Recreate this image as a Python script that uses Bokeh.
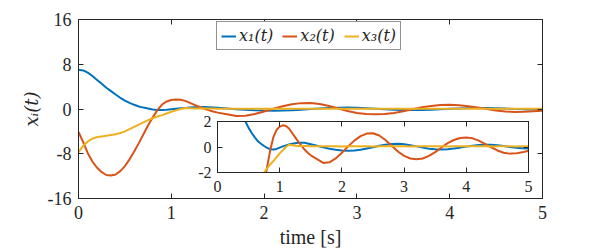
from bokeh.plotting import figure
from bokeh.models import LinearAxis, FixedTicker, Legend, LegendItem
from bokeh.layouts import column
from bokeh.embed import file_html
from bokeh.resources import INLINE

# ---- data ----
t = [0.00, 0.05, 0.10, 0.15, 0.20, 0.25, 0.30, 0.35, 0.40, 0.45, 0.50, 0.55, 0.60, 0.65, 0.70,
     0.75, 0.80, 0.85, 0.90, 0.95, 1.00, 1.05, 1.10, 1.15, 1.20, 1.25, 1.30, 1.35, 1.40, 1.45, 1.50,
     1.6, 1.7, 1.8, 1.9, 2.0, 2.1, 2.2, 2.3, 2.4, 2.5, 2.6, 2.7, 2.8, 2.9, 3.0, 3.1, 3.2, 3.3, 3.4,
     3.5, 3.6, 3.7, 3.8, 3.9, 4.0, 4.1, 4.2, 4.3, 4.4, 4.5, 4.6, 4.7, 4.8, 4.9, 5.0]
x1 = [7.0, 6.9, 6.5, 5.9, 5.2, 4.5, 3.8, 3.2, 2.6, 2.0, 1.5, 1.1, 0.75, 0.45, 0.25,
      0.08, -0.08, -0.17, -0.2, -0.15, -0.05, 0.05, 0.13, 0.2, 0.26, 0.3, 0.33, 0.34, 0.33, 0.28, 0.22,
      0.1, -0.03, -0.14, -0.22, -0.28, -0.3, -0.28, -0.22, -0.12, -0.02, 0.1, 0.18, 0.24, 0.26, 0.22,
      0.14, 0.05, -0.05, -0.13, -0.18, -0.2, -0.18, -0.12, -0.05, 0.03, 0.1, 0.15, 0.18, 0.17, 0.13,
      0.07, 0.0, -0.06, -0.1, -0.11]
x2 = [-4.1, -5.9, -7.9, -9.4, -10.5, -11.3, -11.8, -11.9, -11.7, -11.1, -10.2, -9.0, -7.6, -6.1, -4.5,
      -2.9, -1.5, -0.2, 0.8, 1.35, 1.6, 1.7, 1.65, 1.45, 1.1, 0.75, 0.4, 0.1, -0.2, -0.45, -0.65,
      -0.95, -1.25, -1.2, -0.9, -0.45, 0.05, 0.5, 0.85, 1.05, 1.08, 0.9, 0.55, 0.1, -0.35, -0.7,
      -0.9, -0.96, -0.9, -0.7, -0.4, -0.05, 0.3, 0.55, 0.7, 0.74, 0.68, 0.5, 0.25, -0.02, -0.27,
      -0.45, -0.52, -0.5, -0.42, -0.3]
x3 = [-7.7, -6.6, -5.8, -5.3, -5.0, -4.9, -4.8, -4.65, -4.5, -4.3, -4.0, -3.6, -3.2, -2.8, -2.4,
      -2.0, -1.65, -1.35, -1.1, -0.8, -0.5, -0.25, 0.0, 0.18, 0.15, 0.1, 0.08, 0.07, 0.08, 0.07, 0.06,
      0.05, 0.05, 0.06, 0.05, 0.04, 0.05, 0.06, 0.05, 0.05, 0.04, 0.05, 0.05, 0.06, 0.05, 0.05,
      0.04, 0.05, 0.05, 0.05, 0.06, 0.05, 0.04, 0.05, 0.05, 0.05, 0.05, 0.06, 0.05, 0.04, 0.05,
      0.05, 0.05, 0.04, 0.05, 0.05]
labels = ["x\u2081(t)", "x\u2082(t)", "x\u2083(t)"]
colors = ["#0072BD", "#D95319", "#EDB120"]

x_ticks = [0, 1, 2, 3, 4, 5]
y_ticks = [-16, -8, 0, 8, 16]
inset_x_ticks = [0, 1, 2, 3, 4, 5]
inset_y_ticks = [-2, 0, 2]

FONT = "Liberation Serif"
MATHFONT = "DejaVu Serif"
INK = "#262626"


def style_axis(ax, ticks, show_labels=True, size="18px", standoff=7):
    ax.ticker = FixedTicker(ticks=ticks)
    ax.major_tick_in = 5
    ax.major_tick_out = 0
    ax.minor_tick_line_color = None
    ax.axis_line_color = INK
    ax.major_tick_line_color = INK
    ax.major_label_text_font = FONT
    ax.major_label_standoff = standoff
    ax.major_label_overrides = {v: str(v) for v in ticks}
    if show_labels:
        ax.major_label_text_font_size = size
        ax.major_label_text_color = INK
    else:
        ax.major_label_text_font_size = "1px"
        ax.major_label_text_color = None
        ax.major_label_standoff = 0


# ---- main figure ----
p = figure(width=590, height=250, x_range=(0, 5), y_range=(-16, 16),
           output_backend="svg", toolbar_location=None,
           min_border_left=78, min_border_right=48, min_border_top=19, min_border_bottom=52,
           background_fill_color="white", border_fill_color="white")
p.grid.visible = False
p.outline_line_color = INK

style_axis(p.xaxis[0], x_ticks, standoff=7)
style_axis(p.yaxis[0], y_ticks, standoff=7)
p.xaxis.axis_label = "time [s]"
p.yaxis.axis_label = "x\u1d62(t)"
p.xaxis.axis_label_text_font = FONT
p.xaxis.axis_label_text_font_size = "20px"
p.xaxis.axis_label_text_font_style = "normal"
p.yaxis.axis_label_text_font = MATHFONT
p.yaxis.axis_label_text_font_size = "18px"
p.yaxis.axis_label_text_font_style = "italic"
for ax in (p.xaxis[0], p.yaxis[0]):
    ax.axis_label_text_color = INK
p.xaxis.axis_label_standoff = 4
p.yaxis.axis_label_standoff = 3

top = LinearAxis()
style_axis(top, x_ticks, show_labels=False)
p.add_layout(top, "above")
right = LinearAxis()
style_axis(right, y_ticks, show_labels=False)
p.add_layout(right, "right")

renderers = []
for ys, c in zip([x1, x2, x3], colors):
    renderers.append(p.line(t, ys, line_color=c, line_width=2))

legend = Legend(items=[LegendItem(label=l, renderers=[r]) for l, r in zip(labels, renderers)],
                orientation="horizontal", location=(138, 148))
legend.label_text_font = MATHFONT
legend.label_text_font_style = "italic"
legend.label_text_font_size = "16px"
legend.label_text_color = INK
legend.glyph_width = 15
legend.glyph_height = 16
legend.label_height = 16
legend.label_standoff = 3
legend.spacing = 9
legend.padding = 4
legend.margin = 0
legend.border_line_color = INK
legend.border_line_width = 1
legend.background_fill_color = "white"
legend.background_fill_alpha = 1.0
p.add_layout(legend, "center")

# ---- inset figure ----
inset = figure(width=349, height=87, x_range=(0, 5), y_range=(-2, 2),
               output_backend="svg", toolbar_location=None,
               min_border_left=30, min_border_right=8, min_border_top=10, min_border_bottom=26,
               background_fill_color="white", border_fill_color=None)
inset.grid.visible = False
inset.outline_line_color = INK
style_axis(inset.xaxis[0], inset_x_ticks, size="16px", standoff=8)
style_axis(inset.yaxis[0], inset_y_ticks, size="16px", standoff=6)
itop = LinearAxis()
style_axis(itop, inset_x_ticks, show_labels=False)
inset.add_layout(itop, "above")
iright = LinearAxis()
style_axis(iright, inset_y_ticks, show_labels=False)
inset.add_layout(iright, "right")
for ys, c in zip([x1, x2, x3], colors):
    inset.line(t, ys, line_color=c, line_width=2)

inset_box = column(inset)
inset_box.styles = {"position": "absolute", "left": "187px", "top": "111px"}

layout = column(p, inset_box)
layout.styles = {"position": "relative"}

open("out.html", "w").write(file_html(layout, INLINE))
